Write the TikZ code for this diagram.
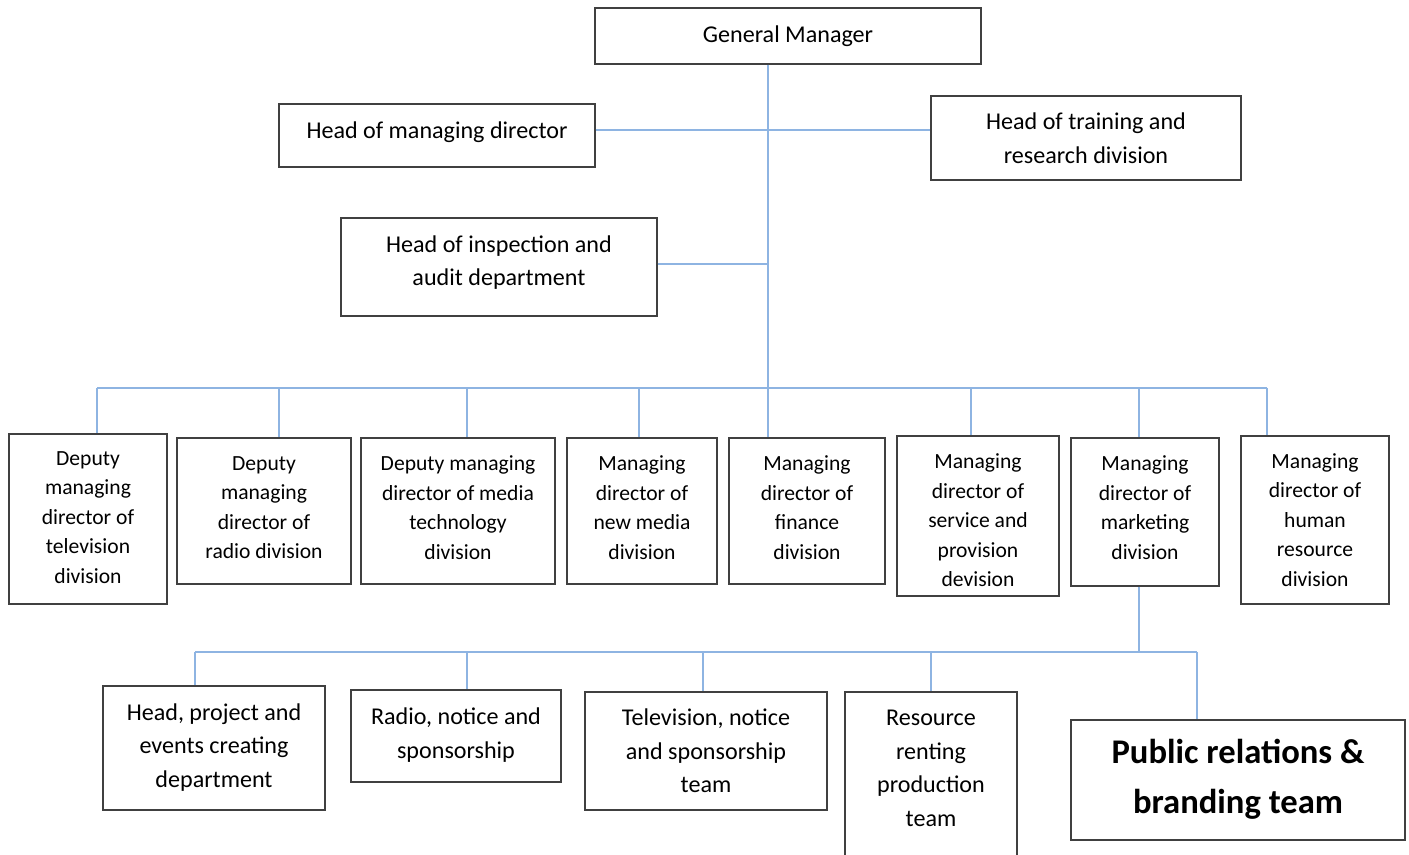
\documentclass[tikz,border=0pt]{standalone}
\usepackage{fontspec}
\setmainfont{Carlito}
\usepackage{tikz}
\definecolor{linkblue}{RGB}{142,180,226}
\definecolor{boxgray}{RGB}{64,64,64}
\newcommand{\lift}[1]{\rule[-#1]{0pt}{0pt}}
\tikzset{
	orgbox/.style={draw=boxgray, line width=0.65pt, inner sep=0pt, align=center, font=\fontsize{12.05}{16.75}\selectfont},
	divbox/.style={orgbox, font=\fontsize{10.8}{14.75}\selectfont},
	bigbox/.style={orgbox, font=\fontsize{17.3}{25}\selectfont\bfseries},
	link/.style={draw=linkblue, line width=0.65pt}
}

\begin{document}
\begin{tikzpicture}[x=0.5pt, y=-0.5pt]
			%%%%% START %%%%%
			
			\clip (0, 0) rectangle (1409, 855);
			
			\node[orgbox, minimum width=193pt, minimum height=28pt] (gm) at (788, 36) {General Manager\lift{2pt}};
			\node[orgbox, minimum width=158pt, minimum height=31.5pt] (hmd) at (437, 135.5) {Head of managing director\lift{5.5pt}};
			\node[orgbox, minimum width=155pt, minimum height=42pt] (htr) at (1086, 138) {Head of training and\\research division};
			\node[orgbox, minimum width=158pt, minimum height=49pt] (hia) at (499, 267) {Head of inspection and\\audit department\lift{6.5pt}};
			
			\coordinate (j1) at (768, 130);
			\coordinate (j2) at (768, 264);
			\coordinate (bus) at (768, 388);
			\coordinate (bus2) at (1139, 652);
			
			\draw[link] (gm.south -| bus) -- (bus);
			\draw[link] (hmd.east |- j1) -- (htr.west |- j1);
			\draw[link] (hia.east |- j2) -- (j2);
			
			% division heads
			\node[divbox, minimum width=79pt, minimum height=85pt] (tv) at (88, 519) {Deputy\\managing\\director of\\television\\division\lift{1.5pt}};
			\node[divbox, minimum width=87pt, minimum height=73pt] (rd) at (264, 511) {Deputy\\managing\\director of\\radio division\lift{3.5pt}};
			\node[divbox, minimum width=97pt, minimum height=73pt] (mt) at (458, 511) {Deputy managing\\director of media\\technology\\division\lift{3.5pt}};
			\node[divbox, minimum width=75pt, minimum height=73pt] (nm) at (642, 511) {Managing\\director of\\new media\\division\lift{3.5pt}};
			\node[divbox, minimum width=78pt, minimum height=73pt] (fn) at (807, 511) {Managing\\director of\\finance\\division\lift{3.5pt}};
			\node[divbox, minimum width=81pt, minimum height=80pt] (sp) at (978, 516) {\rule{0pt}{12pt}Managing\\director of\\service and\\provision\\devision};
			\node[divbox, minimum width=74pt, minimum height=74pt] (mk) at (1145, 512) {Managing\\director of\\marketing\\division\lift{4.5pt}};
			\node[divbox, minimum width=74pt, minimum height=84pt] (hr) at (1315, 520) {Managing\\director of\\human\\resource\\division};
			
			\draw[link] (97, 388) -- (1267, 388);
			\foreach \n/\x in {tv/97, rd/279, mt/467, nm/639, fn/768, sp/971, mk/1139, hr/1267}
				\draw[link] (\x, 388) -- (\n.north -| \x, 0);
			
			% marketing teams
			\node[orgbox, minimum width=111pt, minimum height=62pt] (pe) at (214, 748) {Head, project and\\events creating\\department\lift{2.5pt}};
			\node[orgbox, minimum width=105pt, minimum height=46pt] (rn) at (456, 736) {Radio, notice and\\sponsorship\lift{3pt}};
			\node[orgbox, minimum width=121pt, minimum height=59pt] (tn) at (706, 751) {Television, notice\\and sponsorship\\team};
			\node[orgbox, minimum width=86pt, minimum height=89pt] (rr) at (931, 781) {Resource\\renting\\production\\team\lift{12.5pt}};
			\node[bigbox, minimum width=167pt, minimum height=60pt] (pr) at (1238, 780) {Public relations \&\\branding team\lift{3.5pt}};
			
			\draw[link] (mk.south -| bus2) -- (bus2);
			\draw[link] (195, 652) -- (1197, 652);
			\foreach \n/\x in {pe/195, rn/467, tn/703, rr/931, pr/1197}
				\draw[link] (\x, 652) -- (\n.north -| \x, 0);
			
			%%%%% END %%%%%
\end{tikzpicture}
\end{document}
